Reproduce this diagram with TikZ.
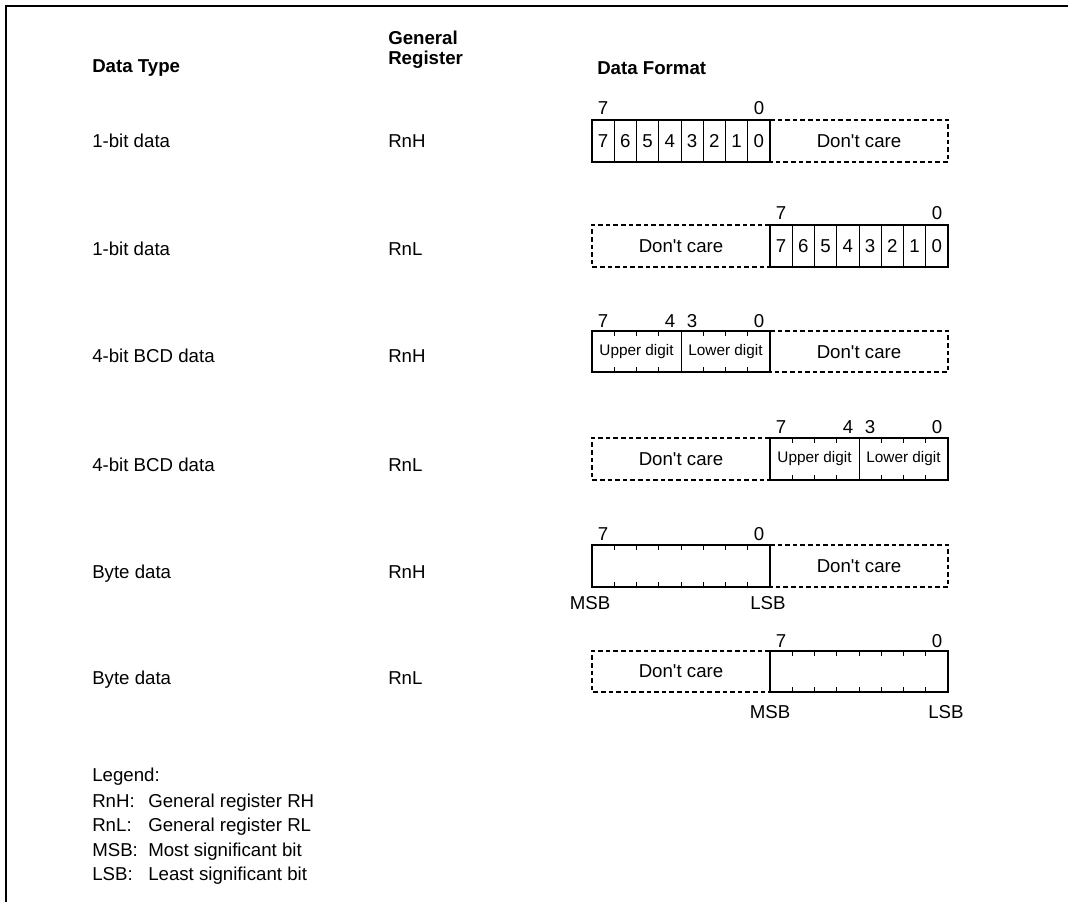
\documentclass[tikz,border=0pt]{standalone}
\usepackage{fontspec}
\setmainfont{Liberation Sans}[Ligatures=TeXOff]
\begin{document}
\begin{tikzpicture}[x=0.75pt,y=-0.75pt,
  lbl/.style={font=\fontsize{14}{16}\selectfont, inner sep=0pt},
  hdr/.style={font=\fontsize{14}{15}\selectfont\bfseries, inner sep=0pt, align=left},
  small/.style={font=\fontsize{11.5}{13}\selectfont, inner sep=0pt},
  outer/.style={line width=1pt},
  cell/.style={line width=0.5pt},
  dc/.style={line width=0.8pt, dash pattern=on 3.5pt off 2.2pt},
  frame/.style={line width=1.6pt}]
\useasboundingbox (0,0) rectangle (1068,902);
\draw[frame] (6,902) -- (6,6) -- (1068,6);

% headers
\node[hdr, anchor=west] (hType) at (92,68) {Data Type};
\node[hdr, anchor=west] (hReg) at (388,50) {General\\Register};
\node[hdr, anchor=west] (hFmt) at (597,68) {Data Format};

% row labels
\foreach \y/\t/\r [count=\i] in {141/1-bit data/RnH, 249/1-bit data/RnL, 356/4-bit BCD data/RnH, 464/4-bit BCD data/RnL, 571/Byte data/RnH, 677/Byte data/RnL}{
  \node[lbl, anchor=base west] (t\i) at (92,\y+7) {\t};
  \node[lbl, anchor=base west] (g\i) at (388,\y+7) {\r};
}

% ---- Row 1: 1-bit data, RnH
\draw[outer] (592,120) rectangle (770,162);
\foreach \k in {1,...,7} \draw[cell] ({592+\k*22.25},120) -- ++(0,42);
\foreach \d [count=\k from 0] in {7,6,5,4,3,2,1,0} \node[lbl] (ra\d) at ({603.1+\k*22.25},141) {\d};
\draw[dc] (770,120) -- (948,120) -- (948,162) -- (770,162);
\node[lbl] (raDC) at (859,141) {Don't care};
\node[lbl] (raH) at (603,108) {7};
\node[lbl] (raL) at (759,108) {0};

% ---- Row 2: 1-bit data, RnL
\draw[outer] (770,225) rectangle (948,267);
\foreach \k in {1,...,7} \draw[cell] ({770+\k*22.25},225) -- ++(0,42);
\foreach \d [count=\k from 0] in {7,6,5,4,3,2,1,0} \node[lbl] (rb\d) at ({781.1+\k*22.25},246) {\d};
\draw[dc] (770,225) -- (592,225) -- (592,267) -- (770,267);
\node[lbl] (rbDC) at (681,246) {Don't care};
\node[lbl] (rbH) at (781,213) {7};
\node[lbl] (rbL) at (937,213) {0};

% ---- Row 3: 4-bit BCD data, RnH
\draw[outer] (592,331) rectangle (770,372);
\draw[cell] (681,331) -- (681,372);
\foreach \k in {1,2,3,5,6,7}{
  \draw[cell] ({592+\k*22.25},331) -- ++(0,5);
  \draw[cell] ({592+\k*22.25},372) -- ++(0,-5);}
\node[small] (rcU) at (636.5,352) {Upper digit};
\node[small] (rcLo) at (725.5,352) {Lower digit};
\draw[dc] (770,331) -- (948,331) -- (948,372) -- (770,372);
\node[lbl] (rcDC) at (859,352) {Don't care};
\node[lbl] (rc7) at (603,321) {7};
\node[lbl] (rc4) at (670,321) {4};
\node[lbl] (rc3) at (692,321) {3};
\node[lbl] (rc0) at (759,321) {0};

% ---- Row 4: 4-bit BCD data, RnL
\draw[outer] (770,438) rectangle (948,480);
\draw[cell] (859,438) -- (859,480);
\foreach \k in {1,2,3,5,6,7}{
  \draw[cell] ({770+\k*22.25},438) -- ++(0,5);
  \draw[cell] ({770+\k*22.25},480) -- ++(0,-5);}
\node[small] (rdU) at (814.5,459) {Upper digit};
\node[small] (rdLo) at (903.5,459) {Lower digit};
\draw[dc] (770,438) -- (592,438) -- (592,480) -- (770,480);
\node[lbl] (rdDC) at (681,459) {Don't care};
\node[lbl] (rd7) at (781,427) {7};
\node[lbl] (rd4) at (848,427) {4};
\node[lbl] (rd3) at (870,427) {3};
\node[lbl] (rd0) at (937,427) {0};

% ---- Row 5: Byte data, RnH
\draw[outer] (592,545) rectangle (770,587);
\foreach \k in {1,...,7}{
  \draw[cell] ({592+\k*22.25},545) -- ++(0,5);
  \draw[cell] ({592+\k*22.25},587) -- ++(0,-5);}
\draw[dc] (770,545) -- (948,545) -- (948,587) -- (770,587);
\node[lbl] (reDC) at (859,566) {Don't care};
\node[lbl] (re7) at (603,534) {7};
\node[lbl] (re0) at (759,534) {0};
\node[lbl] (reM) at (590,603) {MSB};
\node[lbl] (reL) at (768,603) {LSB};

% ---- Row 6: Byte data, RnL
\draw[outer] (770,651) rectangle (948,692);
\foreach \k in {1,...,7}{
  \draw[cell] ({770+\k*22.25},651) -- ++(0,5);
  \draw[cell] ({770+\k*22.25},692) -- ++(0,-5);}
\draw[dc] (770,651) -- (592,651) -- (592,692) -- (770,692);
\node[lbl] (rfDC) at (681,671.5) {Don't care};
\node[lbl] (rf7) at (781,641) {7};
\node[lbl] (rf0) at (937,641) {0};
\node[lbl] (rfM) at (770,712) {MSB};
\node[lbl] (rfL) at (946,712) {LSB};

% legend
\node[lbl, anchor=base west] (leg) at (92,781) {Legend:};
\foreach \y/\k/\v [count=\i] in {807/RnH:/General register RH, 831/RnL:/General register RL, 856/MSB:/Most significant bit, 880/LSB:/Least significant bit}{
  \node[lbl, anchor=base west] (lk\i) at (92,\y) {\k};
  \node[lbl, anchor=base west] (lv\i) at (148,\y) {\v};
}
\end{tikzpicture}
\end{document}
